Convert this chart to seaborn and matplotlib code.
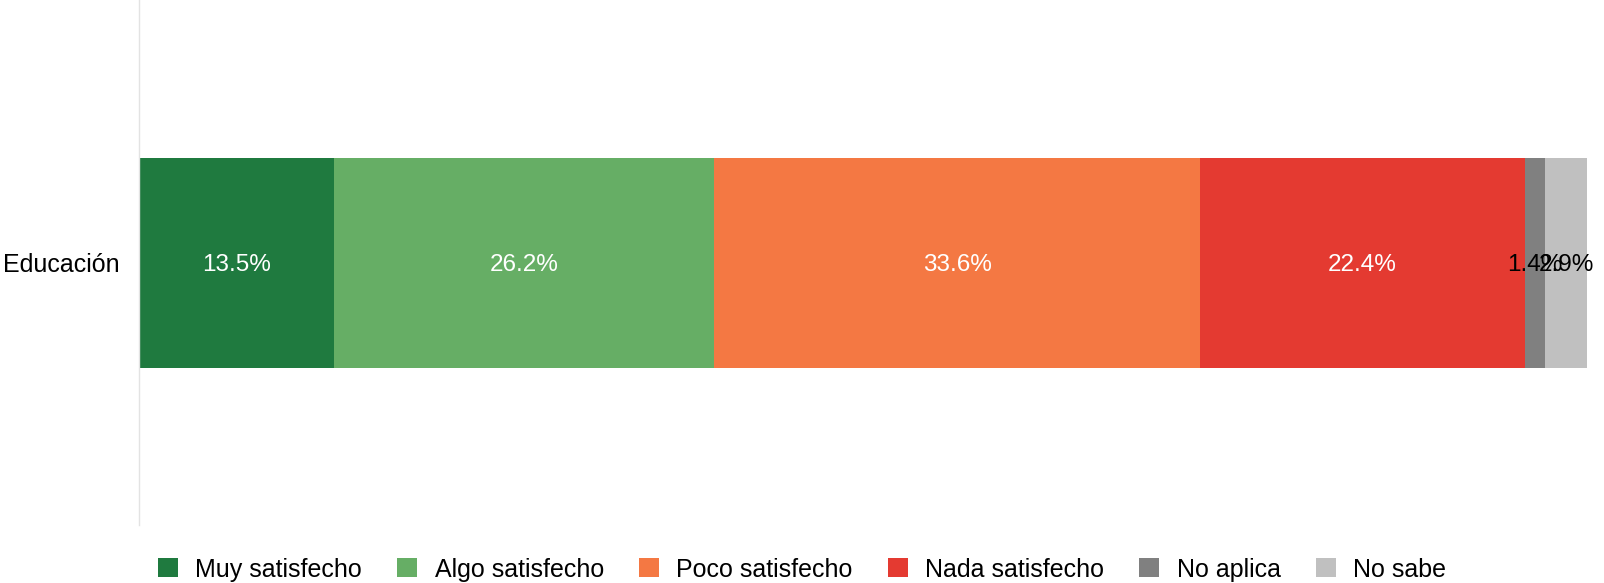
import matplotlib
matplotlib.use("Agg")
import matplotlib.pyplot as plt
import seaborn as sns
import numpy as np
import pandas as pd
from matplotlib.patches import Patch

categories = ["Educación"]
series = ["Muy satisfecho", "Algo satisfecho", "Poco satisfecho", "Nada satisfecho", "No aplica", "No sabe"]
values = [13.5, 26.2, 33.6, 22.4, 1.4, 2.9]
colors = ["#1f7a3f", "#66ae65", "#f47843", "#e43a31", "#808080", "#c0c0c0"]
label_colors = ["white", "white", "white", "white", "black", "black"]

sns.set_style("white")
plt.rcParams["font.family"] = ["Liberation Sans", "DejaVu Sans"]
plt.rcParams["text.color"] = "black"
plt.rcParams["ytick.color"] = "black"
plt.rcParams["ytick.labelcolor"] = "black"

fig = plt.figure(figsize=(16.04, 5.83), dpi=100)
ax = fig.add_axes([139 / 1604, 1 - 525 / 583, (1587 - 139) / 1604, 525 / 583])

cum = np.cumsum(values)
# draw from the longest cumulative bar to the shortest so the segments stack
for i in range(len(values) - 1, -1, -1):
    df = pd.DataFrame({"cat": categories, "val": [cum[i]]})
    sns.barplot(data=df, x="val", y="cat", orient="y", color=colors[i],
                width=0.4, saturation=1, ax=ax, linewidth=0)

for i, v in enumerate(values):
    ax.text(cum[i] - v / 2, 0, f"{v}%", ha="center", va="center_baseline",
            color=label_colors[i], fontsize=17.5)

ax.set_xlim(0, cum[-1])
ax.set_ylim(0.5, -0.5)
ax.set_xlabel("")
ax.set_ylabel("")
ax.set_xticks([])
ax.tick_params(axis="y", length=0, pad=14, labelsize=18, labelcolor="black")
for s in ["top", "right", "bottom"]:
    ax.spines[s].set_visible(False)
ax.spines["left"].set_color("#e3e3e3")
ax.spines["left"].set_linewidth(1)

handles = [Patch(facecolor=c, edgecolor="none", label=s) for s, c in zip(series, colors)]
fig.legend(handles=handles, loc="center", bbox_to_anchor=(0.5, 0.023), ncol=6,
           frameon=False, fontsize=18, handlelength=0.8, handleheight=0.8,
           handletextpad=0.7, columnspacing=1.4)

fig.savefig("out.png", dpi=100)
